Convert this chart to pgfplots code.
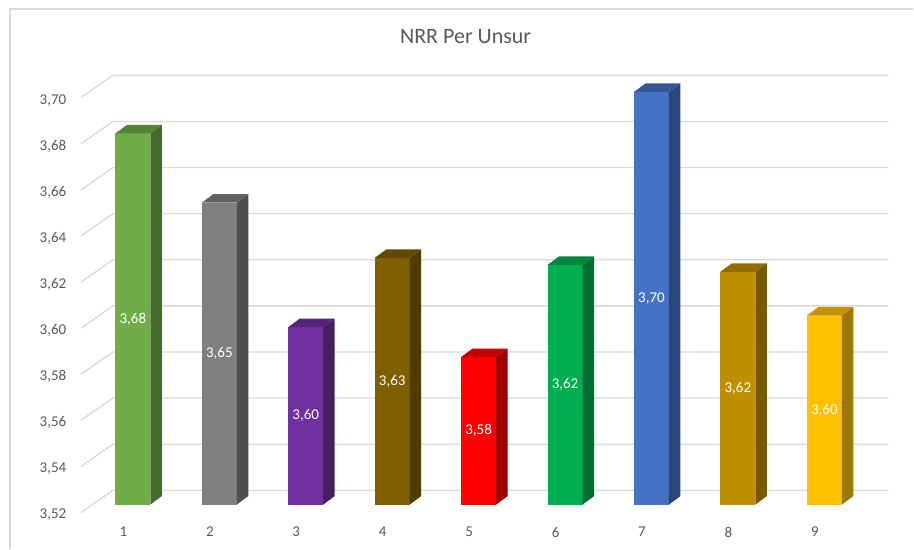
\documentclass[border=0pt]{standalone}
\usepackage{fontspec}
\setmainfont{Carlito}
\usepackage{pgfplots}
\pgfplotsset{compat=1.18}
\usepackage{pgfplotstable}

\definecolor{tickc}{HTML}{595959}
\definecolor{gridc}{HTML}{D9D9D9}
\newcommand\barcolours[2]{%
  \definecolor{front#1}{HTML}{#2}%
  \colorlet{side#1}{front#1!62!black}%
  \colorlet{top#1}{front#1!76!black}}
\barcolours{1}{70AD47}
\barcolours{2}{7F7F7F}
\barcolours{3}{7030A0}
\barcolours{4}{7F6000}
\barcolours{5}{FF0000}
\barcolours{6}{00B050}
\barcolours{7}{4472C4}
\barcolours{8}{BF8F00}
\barcolours{9}{FFC000}

% NRR per unsur
\pgfplotstableread{
x y
1 3.681
2 3.651
3 3.597
4 3.627
5 3.584
6 3.624
7 3.699
8 3.621
9 3.602
}\nrr

% 3-D column drawn from the data point (top centre of the front face)
\pgfdeclareplotmark{prism}{%
  \pgfmathsetmacro\hh{(\rawy-3.52)*2307}%
  \pgfmathtruncatemacro\ci{round(\rawx)}%
  % front face
  \pgfpathrectanglecorners{\pgfpoint{-17.5pt}{-\hh pt}}{\pgfpoint{17.5pt}{0pt}}%
  \pgfsetfillcolor{front\ci}\pgfusepath{fill}%
  % side face
  \pgfpathmoveto{\pgfpoint{17.5pt}{-\hh pt}}%
  \pgfpathlineto{\pgfpoint{29pt}{-\hh pt+8.5pt}}%
  \pgfpathlineto{\pgfpoint{29pt}{8.5pt}}%
  \pgfpathlineto{\pgfpoint{17.5pt}{0pt}}%
  \pgfpathclose
  \pgfsetfillcolor{side\ci}\pgfusepath{fill}%
  % top face
  \pgfpathmoveto{\pgfpoint{-17.5pt}{0pt}}%
  \pgfpathlineto{\pgfpoint{-6pt}{8.5pt}}%
  \pgfpathlineto{\pgfpoint{29pt}{8.5pt}}%
  \pgfpathlineto{\pgfpoint{17.5pt}{0pt}}%
  \pgfpathclose
  \pgfsetfillcolor{top\ci}\pgfusepath{fill}%
}

\begin{document}
\begin{tikzpicture}
\begin{axis}[
  x=86.5pt, y=2307pt,
  xmin=-0.5376, xmax=10.0289,
  ymin=3.500928, ymax=3.7389,
  clip=false,
  axis line style={draw=none},
  tick style={draw=none},
  major tick length=0pt,
  /pgf/number format/assume math mode=true,
  xtick={1,...,9},
  ytick={3.52,3.54,3.56,3.58,3.60,3.62,3.64,3.66,3.68,3.70},
  ticklabel style={font=\fontsize{15}{18}\selectfont, text=tickc},
  xticklabel style={anchor=center, xshift=-9.5pt, yshift=16.5pt},
  yticklabel style={anchor=center, xshift=53pt, yshift=-10.5pt,
    /pgf/number format/fixed, /pgf/number format/fixed zerofill,
    /pgf/number format/precision=2, /pgf/number format/use comma},
  title={NRR Per Unsur},
  title style={at={(0.5098,0.922)}, anchor=center,
    font=\fontsize{22}{26}\selectfont, text=tickc},
]
  \path (rel axis cs:0,0) rectangle (rel axis cs:1,1);
  % chart frame
  \draw[gridc, line width=1.5pt] (rel axis cs:0.01094,0) -- (rel axis cs:0.01094,0.98361) -- (rel axis cs:1,0.98361);
  % floor edge diagonals and back wall gridlines
  \pgfplotsinvokeforeach{3.52,3.54,3.56,3.58,3.60,3.62,3.64,3.66,3.68,3.70}{
    \draw[gridc, line width=1.3pt] ([yshift=-8pt]axis cs:0.3988,#1) -- ([yshift=14.3pt]axis cs:0.7688,#1) -- ([yshift=14.3pt]axis cs:9.7399,#1);
  }

  \addplot[only marks, mark=prism,
    visualization depends on={rawy \as \rawy},
    visualization depends on={rawx \as \rawx},
    point meta=y,
    nodes near coords={\pgfmathprintnumber[fixed, fixed zerofill, precision=2, use comma]{\pgfplotspointmeta}},
    every node near coord/.append style={anchor=center, text=white,
      font=\fontsize{15}{18}\selectfont,
      yshift={-(\rawy-3.52)*1153.5}},
  ] table[x=x, y=y] {\nrr};
\end{axis}
\end{tikzpicture}
\end{document}
